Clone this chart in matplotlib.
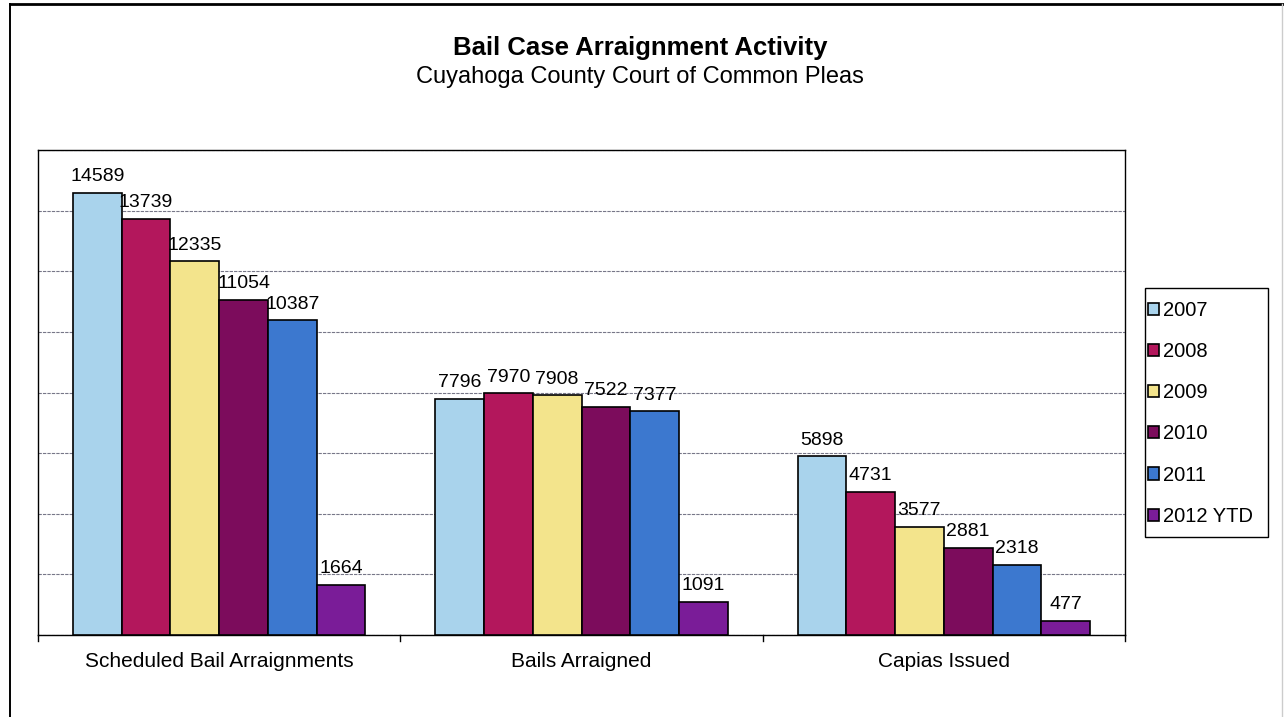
import matplotlib
matplotlib.use("Agg")
import matplotlib.pyplot as plt
import numpy as np
from matplotlib.lines import Line2D
from matplotlib.patches import Rectangle

categories = ["Scheduled Bail Arraignments", "Bails Arraigned", "Capias Issued"]
series_names = ["2007", "2008", "2009", "2010", "2011", "2012 YTD"]
v2007 = [14589, 7796, 5898]
v2008 = [13739, 7970, 4731]
v2009 = [12335, 7908, 3577]
v2010 = [11054, 7522, 2881]
v2011 = [10387, 7377, 2318]
v2012 = [1664, 1091, 477]
series_values = [v2007, v2008, v2009, v2010, v2011, v2012]
colors = ["#a9d3ec", "#b3175c", "#f3e48c", "#7c0c5c", "#3c78cf", "#7a1c98"]

plt.rcParams['font.family'] = ['Liberation Sans', 'DejaVu Sans']

W, H = 1284, 717
fig = plt.figure(figsize=(W/100, H/100), dpi=100)
ax = fig.add_axes([38/W, 1-635/H, (1125-38)/W, (635-150)/H])

n = len(series_names)
bw = 0.1345
x = np.arange(len(categories))
for i, (name, vals, c) in enumerate(zip(series_names, series_values, colors)):
    pos = x + (i - (n-1)/2) * bw
    ax.bar(pos, vals, width=bw, color=c, edgecolor="black", linewidth=1.2,
           label=name, zorder=3)
    for p, v in zip(pos, vals):
        ax.text(p, v + 250, str(v), ha="center", va="bottom", fontsize=14, zorder=4)

ax.set_xlim(-0.5, len(categories) - 0.5)
ax.set_ylim(0, 16000)
ax.set_yticks(np.arange(0, 16001, 2000))
ax.set_yticklabels([])
ax.tick_params(axis="y", length=0)
ax.yaxis.grid(True, color="#777788", linestyle=(0, (3, 1)), linewidth=0.8, zorder=0)
ax.set_xticks(x)
ax.set_xticklabels(categories, fontsize=15)
ax.tick_params(axis="x", length=0, pad=12)
for b in [-0.5, 0.5, 1.5, 2.5]:
    ax.plot([b, b], [0, -200], color="black", lw=1, clip_on=False, zorder=5)
for s in ["left", "bottom", "top", "right"]:
    ax.spines[s].set_color("black")
    ax.spines[s].set_linewidth(1.0)

leg = fig.legend(*ax.get_legend_handles_labels(), loc="upper left",
                 bbox_to_anchor=(1148/W, 1-301/H),
                 fontsize=14.5, frameon=False,
                 handlelength=0.55, handleheight=0.55, handletextpad=0.2,
                 labelspacing=1.1, borderpad=0, borderaxespad=0)
fig.patches.append(Rectangle((1145/W, 1-537/H), (1268-1145)/W, (537-288)/H,
                             transform=fig.transFigure, fill=False,
                             edgecolor="black", linewidth=1.0))

fig.text(0.4985, 1-48/H, "Bail Case Arraignment Activity", ha="center", va="center",
         fontsize=18.5, fontweight="bold")
fig.text(0.4985, 1-77/H, "Cuyahoga County Court of Common Pleas", ha="center",
         va="center", fontsize=17)

fig.lines.append(Line2D([10.5/W, 10.5/W], [0, 1-4/H], transform=fig.transFigure,
                        color="black", lw=1.4))
fig.lines.append(Line2D([10.5/W, 1], [1-4/H, 1-4/H], transform=fig.transFigure,
                        color="black", lw=2.0))
fig.lines.append(Line2D([1282/W, 1282/W], [0, 1-4/H], transform=fig.transFigure,
                        color="#cccccc", lw=1.0))

fig.savefig("out.png", dpi=100)
